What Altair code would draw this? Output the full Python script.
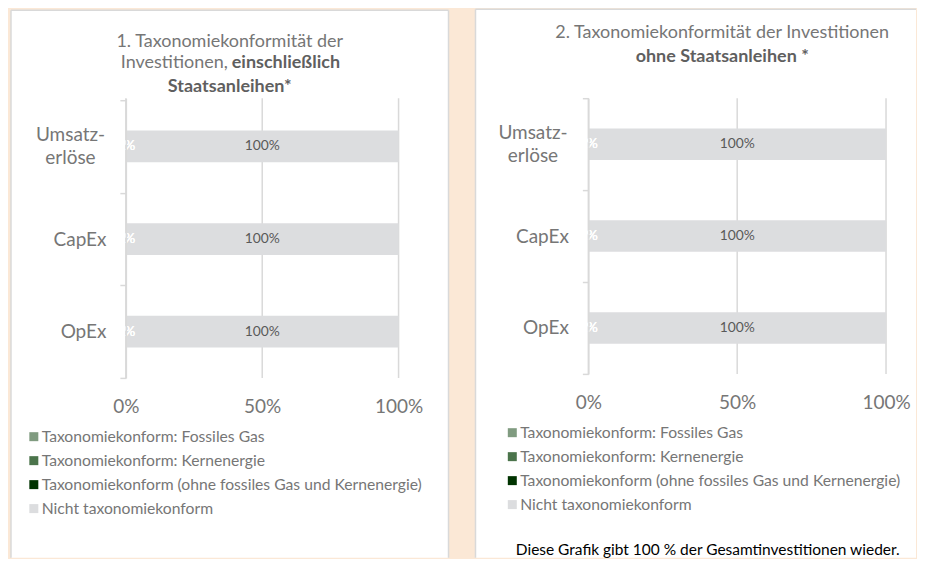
import altair as alt
import pandas as pd

# ---------------- data ----------------
categories = ["Umsatzerlöse", "CapEx", "OpEx"]
series_names = [
    "Taxonomiekonform: Fossiles Gas",
    "Taxonomiekonform: Kernenergie",
    "Taxonomiekonform (ohne fossiles Gas und Kernenergie)",
    "Nicht taxonomiekonform",
]
series_colors = ["#809b80", "#4b744b", "#003300", "#dcdddf"]

# Chart 1: including sovereign bonds (shares per category)
incl_fossil = [0.0, 0.0, 0.0]
incl_nuclear = [0.0, 0.0, 0.0]
incl_taxo = [0.0, 0.0, 0.0]
incl_non = [1.0, 1.0, 1.0]

# Chart 2: excluding sovereign bonds
excl_fossil = [0.0, 0.0, 0.0]
excl_nuclear = [0.0, 0.0, 0.0]
excl_taxo = [0.0, 0.0, 0.0]
excl_non = [1.0, 1.0, 1.0]

x_ticks = [0.0, 0.5, 1.0]

title1_line1 = "1. Taxonomiekonformität der"
title1_line2a = "Investitionen,"
title1_line2b = "einschließlich"
title1_line3 = "Staatsanleihen*"
title2_line1 = "2. Taxonomiekonformität der Investitionen"
title2_line2 = "ohne Staatsanleihen *"
footnote = "Diese Grafik gibt 100 % der Gesamtinvestitionen wieder."

# ---------------- style ----------------
FONT = "Lato"
GRID = "#d9d9d9"
TXT = "#767676"
BOLD = "#5f5f5f"
BG = "#fbe8d6"
ONE = pd.DataFrame({"k": [0]})


def make_df(f, n, t, o):
    rows = []
    for si, vals in enumerate([f, n, t, o]):
        for ci, c in enumerate(categories):
            rows.append({"cat": c, "series": series_names[si], "s_order": si,
                         "value": vals[ci]})
    return pd.DataFrame(rows)


def text_layer(txt, x, y, size, color, weight="normal", align="center"):
    return alt.Chart(pd.DataFrame({"t": [txt]})).mark_text(
        font=FONT, fontSize=size, color=color, fontWeight=weight,
        align=align, baseline="middle"
    ).encode(text="t:N", x=alt.value(x), y=alt.value(y))


def card_layers(x0, x1, y0, y1, right_border=True):
    layers = [
        alt.Chart(ONE).mark_rect(fill="white", strokeWidth=0).encode(
            x=alt.value(x0), x2=alt.value(x1), y=alt.value(y0), y2=alt.value(y1)),
        alt.Chart(ONE).mark_rule(color=GRID, strokeWidth=1.5).encode(
            x=alt.value(x0), x2=alt.value(x1), y=alt.value(y0)),
        alt.Chart(ONE).mark_rule(color=GRID, strokeWidth=1.5).encode(
            x=alt.value(x0), y=alt.value(y0), y2=alt.value(y1)),
    ]
    if right_border:
        layers.append(alt.Chart(ONE).mark_rule(color=GRID, strokeWidth=1.5).encode(
            x=alt.value(x1), y=alt.value(y0), y2=alt.value(y1)))
    return layers


UMS = "datum.value == 'Umsatzerlöse'"


def panel(df, W, H, card, legend_xy, texts, pad_outer, right_border=True):
    x_scale = alt.Scale(domain=[0, 1], nice=False, zero=True)
    y_scale = alt.Scale(domain=categories, paddingInner=0, paddingOuter=pad_outer,
                        align=1)
    color_scale = alt.Scale(domain=series_names, range=series_colors)
    x_axis = alt.Axis(values=x_ticks, format=".0%", title=None, grid=False,
                      domain=False, ticks=False, labelFont=FONT, labelFontSize=19,
                      labelColor=TXT, labelPadding=20, labelFlush=False, zindex=1)
    y_axis = alt.Axis(title=None, grid=False, domain=True, domainColor=GRID,
                      domainWidth=1.5, ticks=True, tickColor=GRID, tickWidth=1.5,
                      tickSize=6, tickBand="extent", labelFont=FONT,
                      labelFontSize=19, labelColor=TXT,
                      labelPadding={"condition": {"test": UMS, "value": 50}, "value": 14},
                      labelAlign={"condition": {"test": UMS, "value": "center"}, "value": "right"},
                      labelOffset={"condition": {"test": UMS, "value": -11.5}, "value": 0},
                      labelLineHeight=23, zindex=1,
                      labelExpr="datum.label == 'Umsatzerlöse' ? ['Umsatz-', 'erlöse'] : datum.label")

    grid = alt.Chart(pd.DataFrame({"tick": x_ticks})).mark_rule(
        color=GRID, strokeWidth=1.5
    ).encode(x=alt.X("tick:Q", scale=x_scale, axis=x_axis))

    base = alt.Chart(df).transform_stack(
        stack="value", groupby=["cat"], as_=["x0", "x1"],
        sort=[alt.SortField("s_order", order="ascending")]
    ).transform_calculate(mid="(datum.x0 + datum.x1) / 2")

    bars = base.mark_bar(height={"band": 0.343}).encode(
        x=alt.X("x0:Q", scale=x_scale, axis=x_axis),
        x2="x1:Q",
        y=alt.Y("cat:N", scale=y_scale, axis=y_axis, sort=categories),
        color=alt.Color("series:N", scale=color_scale, legend=alt.Legend(
            orient="none", legendX=legend_xy[0], legendY=legend_xy[1],
            title=None, symbolType="square", symbolSize=81,
            symbolStrokeWidth=0, labelFont=FONT, labelFontSize=15.7,
            labelColor=TXT, rowPadding=7.0, labelOffset=0, padding=0,
            zindex=1, labelLimit=600)),
    )

    labels = base.mark_text(font=FONT, fontSize=13.8, baseline="middle").encode(
        x=alt.X("mid:Q", scale=x_scale, axis=x_axis),
        y=alt.Y("cat:N", scale=y_scale, axis=y_axis, sort=categories),
        text=alt.Text("value:Q", format=".0%"),
        color=alt.condition(alt.datum.s_order == 3, alt.value("#595959"),
                            alt.value("white")),
    )

    layers = card_layers(*card, right_border=right_border) + [grid, bars, labels] + texts
    return alt.layer(*layers).properties(width=W, height=H)


df1 = make_df(incl_fossil, incl_nuclear, incl_taxo, incl_non)
df2 = make_df(excl_fossil, excl_nuclear, excl_taxo, excl_non)

left = panel(
    df1, 273, 280, card=(-115, 323, -88, 460), legend_xy=(-100, 331),
    pad_outer=0.0108,
    texts=[
        text_layer(title1_line1, 104, -56, 18, TXT),
        text_layer(title1_line2a, 102, -35, 18, TXT, align="right"),
        text_layer(title1_line2b, 106, -35, 18, BOLD, weight="bold", align="left"),
        text_layer(title1_line3, 104, -11, 18, BOLD, weight="bold"),
    ],
)

right = panel(
    df2, 298, 276, card=(-113, 328, -89, 460), legend_xy=(-84, 327),
    pad_outer=0.0, right_border=False,
    texts=[
        text_layer(title2_line1, 134, -65, 18, TXT),
        text_layer(title2_line2, 134, -41, 18, BOLD, weight="bold"),
        text_layer(footnote, 119.5, 452, 15.5, "#000000"),
    ],
)

chart = alt.hconcat(left, right, spacing=190, bounds="flush").resolve_scale(
    x="independent", y="independent", color="independent"
).configure(
    background=BG,
    padding={"left": 2, "top": 0, "right": 0, "bottom": 0},
).configure_view(stroke=None)

chart.save("out.html", embed_options={"renderer": "svg", "actions": False})
